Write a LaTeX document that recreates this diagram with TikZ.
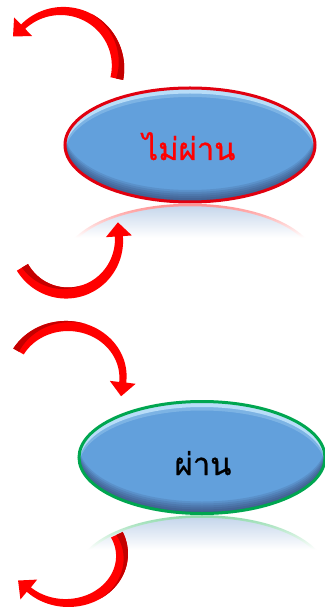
\documentclass[tikz,border=0pt]{standalone}
\usepackage{fontspec}
\newfontfamily\thaifont[Script=Thai, FakeBold=0.8]{Loma}
\definecolor{ellblue}{RGB}{98,160,220}
\definecolor{shadowc}{RGB}{40,40,80}
\definecolor{highc}{RGB}{205,236,255}
\definecolor{arrowred}{RGB}{255,0,0}
\definecolor{arrowdark}{RGB}{196,0,0}
\definecolor{rimred}{RGB}{225,0,15}
\definecolor{rimgreen}{RGB}{0,166,80}
\definecolor{reflfill}{RGB}{180,202,230}
\definecolor{reflred}{RGB}{255,120,120}
\definecolor{reflgreen}{RGB}{120,212,155}
\definecolor{textred}{RGB}{255,0,0}

% tapered curved arrow along an ellipse arc
% #1 cx #2 cy #3 rx #4 ry #5 t0 (tail) #6 t1 (head base) #7 w0 #8 w1 #9 dark side
\newcommand\mycurvarrow[9]{%
\begingroup
\def\Cx{#1}\def\Cy{#2}\def\Rx{#3}\def\Ry{#4}\def\Ta{(#5)}\def\Tb{(#6)}\def\Wa{#7}\def\Wb{#8}\def\Sd{(#9)}%
\pgfmathsetmacro\Bx{\Cx+\Rx*cos(\Tb)}%
\pgfmathsetmacro\By{\Cy+\Ry*sin(\Tb)}%
\pgfmathsetmacro\Nx{\Ry*cos(\Tb)}%
\pgfmathsetmacro\Ny{\Rx*sin(\Tb)}%
\pgfmathsetmacro\Nl{sqrt((\Nx)*(\Nx)+(\Ny)*(\Ny))}%
\pgfmathsetmacro\Sg{(\Tb>\Ta)?1:-1}%
\pgfmathsetmacro\Tx{-(\Sg)*\Rx*sin(\Tb)}%
\pgfmathsetmacro\Ty{(\Sg)*\Ry*cos(\Tb)}%
\pgfmathsetmacro\Tl{sqrt((\Tx)*(\Tx)+(\Ty)*(\Ty))}%
\fill[arrowred] plot[domain=0:1,samples=60,variable=\uu]
  ({\Cx+(\Rx+(\Wa+(\Wb-\Wa)*\uu)/2)*cos(\Ta+(\Tb-\Ta)*\uu)},{\Cy+(\Ry+(\Wa+(\Wb-\Wa)*\uu)/2)*sin(\Ta+(\Tb-\Ta)*\uu)})
  -- ({\Bx+13*(\Nx)/\Nl},{\By+13*(\Ny)/\Nl})
  -- ({\Bx+14*(\Tx)/\Tl},{\By+14*(\Ty)/\Tl})
  -- ({\Bx-13*(\Nx)/\Nl},{\By-13*(\Ny)/\Nl})
  -- plot[domain=0:1,samples=60,variable=\uu]
  ({\Cx+(\Rx-(\Wb+(\Wa-\Wb)*\uu)/2)*cos(\Tb+(\Ta-\Tb)*\uu)},{\Cy+(\Ry-(\Wb+(\Wa-\Wb)*\uu)/2)*sin(\Tb+(\Ta-\Tb)*\uu)})
  -- cycle;
\fill[arrowdark] plot[domain=0:0.5,samples=40,variable=\uu]
  ({\Cx+(\Rx+\Sd*(\Wa+(\Wb-\Wa)*\uu)/2)*cos(\Ta+(\Tb-\Ta)*\uu)},{\Cy+(\Ry+\Sd*(\Wa+(\Wb-\Wa)*\uu)/2)*sin(\Ta+(\Tb-\Ta)*\uu)})
  -- plot[domain=0:0.5,samples=40,variable=\uu]
  ({\Cx+(\Rx+\Sd*((\Wa+(\Wb-\Wa)*(0.5-\uu))/2-(\Wa+(\Wb-\Wa)*(0.5-\uu))*0.55*(2*\uu)))*cos(\Ta+(\Tb-\Ta)*(0.5-\uu))},{\Cy+(\Ry+\Sd*((\Wa+(\Wb-\Wa)*(0.5-\uu))/2-(\Wa+(\Wb-\Wa)*(0.5-\uu))*0.55*(2*\uu)))*sin(\Ta+(\Tb-\Ta)*(0.5-\uu))})
  -- cycle;
\endgroup}

% bevelled ellipse: #1 cx #2 cy #3 rx #4 ry #5 rim colour
\newcommand\mybevel[5]{%
\fill[ellblue] (#1,#2) ellipse[x radius=#3, y radius=#4];
\begin{scope}
  \clip (#1,#2) ellipse[x radius=#3, y radius=#4];
  \foreach \s in {2,4,6,8,10,12}{
    \fill[shadowc, opacity=0.12, even odd rule] (#1,#2) ellipse[x radius=#3, y radius=#4] (#1,#2-\s) ellipse[x radius=#3, y radius=#4];
  }
  \fill[highc, opacity=0.75, even odd rule] (#1,#2) ellipse[x radius=#3, y radius=#4] (#1,#2+5.5) ellipse[x radius=#3, y radius=#4];
  \fill[highc, opacity=0.25, even odd rule] (#1,#2) ellipse[x radius=#3, y radius=#4] (#1,#2+9) ellipse[x radius=#3, y radius=#4];
\end{scope}
\draw[line width=3pt, #5] (#1,#2) ellipse[x radius=#3, y radius=#4];
}

% reflection: #1 cx #2 cy #3 rx #4 ry #5 rim colour #6 axis y
\newcommand\myreflect[6]{%
\begin{scope}
  \clip (#1-#3-6,#6+0.5) rectangle (#1+#3+6,#6+38);
  \fill[reflfill] (#1,2*#6-#2) ellipse[x radius=#3, y radius=#4];
  \draw[line width=2.5pt, #5] (#1,2*#6-#2) ellipse[x radius=#3, y radius=#4];
  \foreach \i in {0,...,40}{
    \pgfmathsetmacro\op{min(1,0.2+\i*0.024)}
    \fill[white, opacity=\op] (#1-#3-6,#6+0.5+\i) rectangle (#1+#3+6,#6+1.8+\i);
  }
\end{scope}
}

\begin{document}
\begin{tikzpicture}[x=1pt,y=-1pt,
  thailabel/.style={font=\thaifont\fontsize{31}{36}\selectfont, inner sep=0pt, anchor=base}]
\useasboundingbox (0,0) rectangle (324,609);
\fill[white] (0,0) rectangle (324,609);

% reflections
\myreflect{190}{145}{125}{57}{reflred}{203.5}
\myreflect{202}{457.5}{123}{56}{reflgreen}{515}

% curved arrows
\mycurvarrow{62}{67}{56}{56}{12}{-134}{13}{6}{1}
\mycurvarrow{67}{240}{52}{53}{149}{-4}{13}{8}{-1}
\mycurvarrow{67}{377}{56}{51}{-150}{6}{12}{7}{1}
\mycurvarrow{67}{555}{55}{48}{-25}{134}{13}{6}{1}

% ellipses
\mybevel{190}{145}{125}{57}{rimred}
\mybevel{202}{457.5}{123}{56}{rimgreen}

\node[thailabel, text=textred] (fail) at (189,160) {ไม่ผ่าน};
\node[thailabel, text=black] (pass) at (203,475) {ผ่าน};
\end{tikzpicture}
\end{document}
